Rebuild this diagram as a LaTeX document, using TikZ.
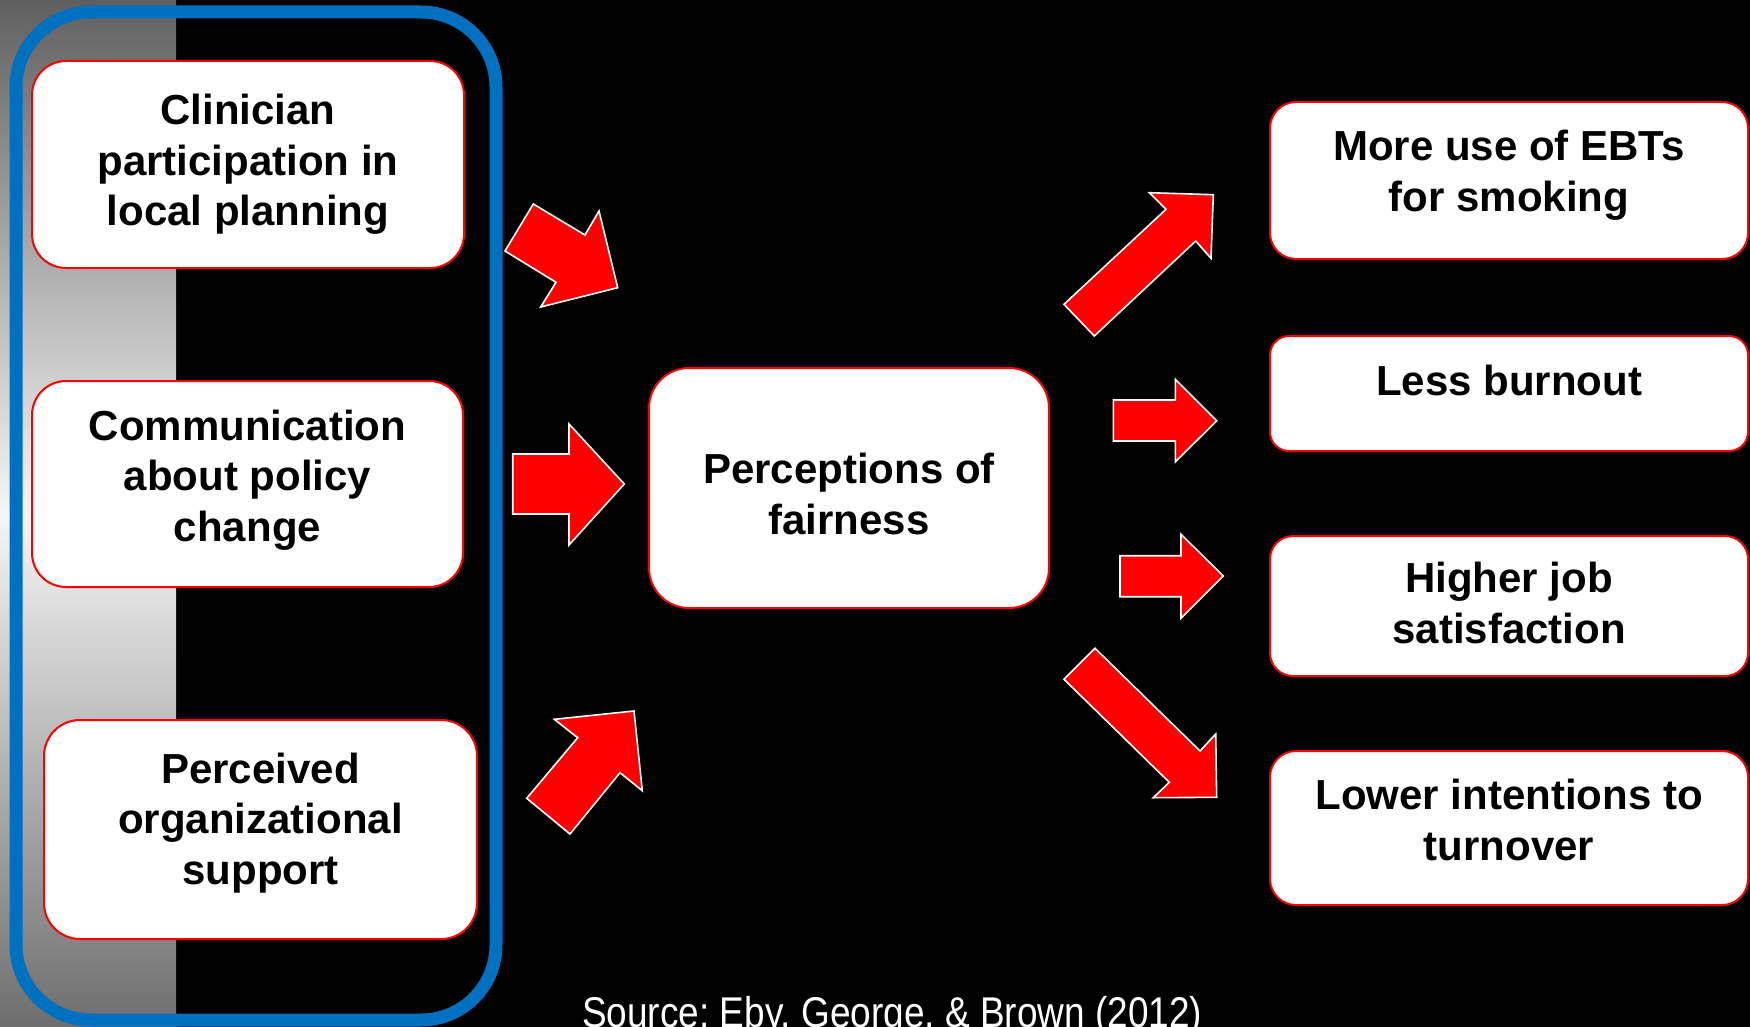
\documentclass[tikz,border=0pt]{standalone}
\usepackage{fontspec}
\setmainfont{Liberation Sans}
\definecolor{pblue}{RGB}{0,112,192}
\definecolor{gtop}{RGB}{96,96,96}
\definecolor{gmid}{RGB}{246,246,246}
\definecolor{gbot}{RGB}{110,110,110}
\begin{document}
\begin{tikzpicture}[x=1pt,y=-1pt,
  box/.style={draw=red, line width=2pt, fill=white, inner sep=0pt, outer sep=0pt, anchor=north west},
  lbl/.style={align=center, font=\fontsize{42}{50.5}\selectfont\bfseries, text=black, inner sep=0pt},
  blk/.style={fill=red, draw=white, line width=1.6pt, line join=miter}]
\useasboundingbox (0,0) rectangle (1750,1027);
\fill[black] (0,0) rectangle (1750,1027);
\shade[top color=gtop, bottom color=gbot, middle color=gmid] (0,0) rectangle (176,1027);
% group frame
\node[draw=pblue, line width=13pt, rounded corners=75pt, minimum width=480pt, minimum height=1008pt, inner sep=0pt, outer sep=0pt, anchor=north west] (grp) at (16,12) {};
% left boxes
\node[box, rounded corners=34pt, minimum width=432pt, minimum height=207pt] (b1) at (32,61) {};
\node[box, rounded corners=34pt, minimum width=431pt, minimum height=206pt] (b2) at (32,381) {};
\node[box, rounded corners=36pt, minimum width=433pt, minimum height=219pt] (b3) at (44,720) {};
% center box
\node[box, rounded corners=40pt, minimum width=400pt, minimum height=240pt] (c) at (649,368) {};
% right boxes
\node[box, rounded corners=26pt, minimum width=478pt, minimum height=157pt] (r1) at (1270,102) {};
\node[box, rounded corners=19pt, minimum width=478pt, minimum height=115pt] (r2) at (1270,336) {};
\node[box, rounded corners=23pt, minimum width=478pt, minimum height=140pt] (r3) at (1270,536) {};
\node[box, rounded corners=26pt, minimum width=478pt, minimum height=154pt] (r4) at (1270,751) {};
% labels
\node[lbl] (t1) at (248,164.5) {Clinician\\participation in\\local planning};
\node[lbl] (t2) at (247.5,480) {Communication\\about policy\\change};
\node[lbl] (t3) at (260.5,823) {Perceived\\organizational\\support};
\node[lbl] (tc) at (849,494) {Perceptions of\\fairness};
\node[lbl] (tr1) at (1509,175) {More use of EBTs\\for smoking};
\node[lbl] (tr2) at (1509,380) {Less burnout};
\node[lbl] (tr3) at (1509,603) {Higher job\\satisfaction};
\node[lbl] (tr4) at (1509,820) {Lower intentions to\\turnover};
% block arrows
\draw[blk] (533.3,204) -- (585,235) -- (599,211) -- (617.7,287.7) -- (540.7,307) -- (556,282.3) -- (505,251) -- cycle;
\draw[blk] (512.7,454) -- (569,454) -- (569,424) -- (624.3,484) -- (569,545) -- (569,514) -- (512.7,514) -- cycle;
\draw[blk] (526.7,798.3) -- (577.7,737.7) -- (554.3,719.3) -- (634,711) -- (642.3,790.7) -- (620,772.7) -- (570,834) -- cycle;
\draw[blk] (1064,304.3) -- (1166,209.3) -- (1149.3,192.7) -- (1213.3,194.7) -- (1211,258.3) -- (1195.7,241) -- (1094.3,336) -- cycle;
\draw[blk] (1113.3,400) -- (1175.3,400) -- (1175.3,379.3) -- (1216.7,420.7) -- (1175.3,462) -- (1175.3,441) -- (1113.3,441) -- cycle;
\draw[blk] (1120,555.7) -- (1181,555.7) -- (1181,534.3) -- (1223.3,576) -- (1181,618.3) -- (1181,596.7) -- (1120,596.7) -- cycle;
\draw[blk] (1095,648.3) -- (1200,751) -- (1215.7,734) -- (1216.7,797.3) -- (1153.3,797.7) -- (1169.3,782.3) -- (1064,679.3) -- cycle;
% source
\node[anchor=base west, xscale=0.86, font=\fontsize{43}{50}\selectfont\frenchspacing, text=white, inner sep=0pt] (src) at (582,1027) {Source: Eby, George, \& Brown (2012)};
\end{tikzpicture}
\end{document}
